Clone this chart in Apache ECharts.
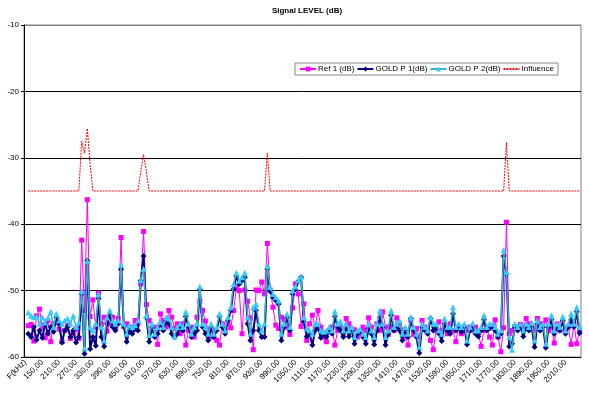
<!DOCTYPE html>
<html>
<head>
<meta charset="utf-8">
<script src="https://cdn.jsdelivr.net/npm/echarts@6/dist/echarts.min.js"></script>
<style>
html,body{margin:0;padding:0;background:#fff;}
#c{width:589px;height:396px;}
</style>
</head>
<body>
<div id="c"></div>
<script>
// Frequencies (kHz), first category is the header cell
var freqs = [100,110,120,130,140,150,160,170,180,190,200,210,220,230,240,250,260,270,280,290,300,310,320,330,340,350,360,370,380,390,400,410,420,430,440,450,460,470,480,490,500,510,520,530,540,550,560,570,580,590,600,610,620,630,640,650,660,670,680,690,700,710,720,730,740,750,760,770,780,790,800,810,820,830,840,850,860,870,880,890,900,910,920,930,940,950,960,970,980,990,1000,1010,1020,1030,1040,1050,1060,1070,1080,1090,1100,1110,1120,1130,1140,1150,1160,1170,1180,1190,1200,1210,1220,1230,1240,1250,1260,1270,1280,1290,1300,1310,1320,1330,1340,1350,1360,1370,1380,1390,1400,1410,1420,1430,1440,1450,1460,1470,1480,1490,1500,1510,1520,1530,1540,1550,1560,1570,1580,1590,1600,1610,1620,1630,1640,1650,1660,1670,1680,1690,1700,1710,1720,1730,1740,1750,1760,1770,1780,1790,1800,1810,1820,1830,1840,1850,1860,1870,1880,1890,1900,1910,1920,1930,1940,1950,1960,1970,1980,1990,2000,2010,2020,2030,2040,2050,2060];
var headerLabel = "F(kHz)";

var ref1 = [-55.3,-55.1,-57.6,-53.8,-52.8,-55.5,-57.1,-54.5,-57.7,-55.0,
-54.8,-55.8,-57.7,-56.0,-55.2,-57.2,-56.5,-55.8,-57.2,-42.4,
-53.0,-36.3,-53.9,-51.4,-55.5,-50.4,-55.1,-54.0,-56.1,-55.0,
-54.0,-55.5,-54.2,-42.0,-55.4,-55.0,-56.2,-55.5,-54.5,-55.0,
-49.0,-41.1,-52.1,-54.5,-56.0,-55.5,-58.1,-53.5,-54.5,-55.5,
-53.0,-54.0,-55.7,-55.0,-56.5,-55.0,-58.2,-56.0,-55.5,-57.0,
-54.0,-51.6,-53.0,-54.6,-56.0,-57.0,-56.0,-57.5,-58.2,-55.0,
-56.0,-55.0,-55.6,-53.0,-49.5,-50.0,-56.5,-49.9,-51.6,-54.1,
-58.9,-49.9,-50.0,-48.7,-50.5,-42.9,-49.9,-52.5,-55.2,-55.7,
-54.0,-54.4,-55.5,-56.6,-52.6,-49.0,-50.5,-55.4,-52.0,-57.5,
-55.0,-53.7,-55.5,-53.0,-55.5,-57.0,-57.7,-56.0,-55.5,-58.2,
-56.0,-55.5,-56.5,-54.2,-55.0,-55.8,-55.9,-57.0,-56.5,-55.5,
-56.0,-54.1,-55.5,-57.2,-55.0,-56.0,-53.2,-55.5,-56.6,-55.4,
-56.0,-54.1,-55.0,-55.9,-57.0,-58.2,-54.5,-56.6,-55.7,-57.0,
-54.5,-55.5,-56.0,-57.5,-58.9,-56.0,-54.7,-56.0,-55.5,-56.5,
-55.0,-56.0,-57.7,-55.5,-56.5,-55.5,-56.0,-55.5,-56.0,-55.5,
-56.4,-58.4,-56.0,-55.5,-57.0,-58.2,-54.4,-57.0,-59.2,-55.6,
-39.7,-56.5,-56.0,-55.4,-55.5,-55.1,-55.5,-54.2,-55.0,-55.5,
-56.0,-54.2,-55.0,-55.0,-54.4,-56.0,-55.5,-57.9,-55.0,-56.0,
-55.0,-56.0,-55.5,-58.1,-55.0,-58.0,-56.0];

var goldP1 = [-56.5,-57.0,-55.5,-57.4,-56.0,-57.1,-55.0,-56.5,-55.5,-56.2,
-54.0,-55.0,-57.8,-56.0,-55.5,-57.0,-56.0,-57.8,-57.0,-50.5,
-59.5,-45.5,-58.8,-57.0,-58.3,-51.2,-57.0,-58.4,-55.0,-53.7,
-55.5,-56.0,-55.0,-46.8,-55.4,-57.7,-56.0,-56.5,-55.8,-56.0,
-48.5,-44.8,-54.1,-57.7,-55.5,-57.0,-56.5,-55.0,-56.0,-54.5,
-55.0,-56.5,-57.0,-56.5,-55.5,-56.0,-53.9,-55.5,-57.0,-56.5,
-56.0,-49.8,-55.5,-56.5,-57.5,-55.5,-57.0,-56.0,-53.9,-55.5,
-56.5,-54.5,-53.0,-49.8,-47.8,-49.0,-48.5,-48.0,-55.0,-57.5,
-56.0,-53.0,-56.0,-57.0,-57.0,-46.7,-50.1,-51.0,-51.5,-52.0,
-57.5,-55.5,-54.0,-56.0,-50.5,-49.8,-48.6,-48.0,-54.7,-56.9,
-56.5,-58.2,-56.0,-55.5,-57.1,-56.5,-57.0,-56.0,-56.5,-53.9,
-55.5,-56.0,-57.0,-55.5,-56.9,-56.0,-58.0,-56.5,-56.0,-57.0,
-58.0,-55.7,-56.5,-58.1,-56.0,-54.0,-55.5,-58.2,-56.5,-53.7,
-56.0,-55.5,-56.0,-57.5,-56.0,-57.0,-54.2,-56.0,-57.0,-59.4,
-55.5,-56.0,-56.5,-54.2,-56.0,-55.5,-56.5,-57.6,-55.0,-56.0,
-56.5,-53.5,-56.0,-55.5,-56.2,-55.5,-58.1,-56.0,-55.5,-56.5,
-56.9,-56.0,-54.4,-56.0,-55.7,-55.5,-56.0,-57.0,-56.5,-44.8,
-47.5,-58.4,-58.0,-55.5,-56.0,-55.5,-56.9,-55.5,-56.0,-55.5,
-58.5,-55.0,-56.0,-55.5,-58.6,-55.5,-54.4,-56.5,-55.5,-56.0,
-54.5,-56.5,-55.5,-54.4,-55.5,-53.2,-56.4];

var goldP2 = [-53.3,-53.8,-54.0,-53.9,-55.0,-54.0,-54.8,-54.1,-53.2,-55.5,
-53.5,-54.5,-55.0,-54.5,-54.2,-55.0,-53.8,-55.5,-54.8,-50.1,
-58.7,-45.5,-55.5,-56.0,-55.0,-50.5,-55.5,-57.5,-54.0,-53.0,
-54.5,-55.0,-54.5,-46.1,-55.0,-56.5,-55.2,-55.5,-55.2,-54.5,
-48.4,-46.7,-53.8,-56.7,-55.0,-56.5,-55.5,-54.7,-55.5,-54.0,
-54.2,-55.5,-56.9,-55.5,-55.0,-55.5,-53.2,-55.0,-56.5,-55.5,
-55.0,-49.4,-55.0,-55.5,-56.5,-55.0,-56.5,-55.5,-53.5,-55.0,
-56.0,-54.0,-52.5,-49.0,-47.3,-48.5,-48.0,-47.3,-54.0,-56.5,
-52.5,-52.0,-55.0,-56.0,-55.0,-46.3,-49.5,-50.5,-51.0,-51.5,
-56.5,-55.0,-53.5,-55.5,-50.0,-49.4,-48.4,-47.9,-54.0,-55.7,
-56.0,-56.5,-55.0,-55.0,-56.0,-56.2,-56.0,-55.5,-56.0,-53.1,
-55.0,-54.6,-56.0,-55.0,-56.0,-55.5,-57.0,-56.0,-55.8,-56.5,
-57.0,-55.0,-56.0,-57.0,-55.0,-53.0,-55.0,-57.0,-56.0,-53.0,
-55.5,-55.0,-54.5,-56.5,-55.5,-56.5,-54.0,-55.5,-56.5,-58.5,
-55.0,-55.5,-56.0,-54.0,-55.0,-55.0,-56.0,-56.5,-54.2,-55.5,
-55.5,-52.5,-55.5,-55.0,-55.5,-55.0,-57.5,-55.5,-54.9,-56.0,
-56.0,-55.5,-53.7,-55.5,-55.0,-55.0,-55.5,-56.5,-56.0,-43.9,
-47.2,-57.0,-58.9,-55.0,-55.5,-55.0,-56.0,-55.0,-55.5,-54.8,
-57.5,-54.5,-55.5,-55.0,-58.0,-55.0,-53.7,-56.0,-55.0,-55.5,
-53.9,-56.0,-55.0,-53.5,-55.0,-52.5,-55.5];

var influence = [-35,-35,-35,-35,-35,-35,-35,-35,-35,-35,
-35,-35,-35,-35,-35,-35,-35,-35,-35,-27.5,
-29.3,-25.6,-31.0,-35,-35,-35,-35,-35,-35,-35,
-35,-35,-35,-35,-35,-35,-35,-35,-35,-35,
-32.1,-29.5,-32.1,-35,-35,-35,-35,-35,-35,-35,
-35,-35,-35,-35,-35,-35,-35,-35,-35,-35,
-35,-35,-35,-35,-35,-35,-35,-35,-35,-35,
-35,-35,-35,-35,-35,-35,-35,-35,-35,-35,
-35,-35,-35,-35,-35,-29.3,-35,-35,-35,-35,
-35,-35,-35,-35,-35,-35,-35,-35,-35,-35,
-35,-35,-35,-35,-35,-35,-35,-35,-35,-35,
-35,-35,-35,-35,-35,-35,-35,-35,-35,-35,
-35,-35,-35,-35,-35,-35,-35,-35,-35,-35,
-35,-35,-35,-35,-35,-35,-35,-35,-35,-35,
-35,-35,-35,-35,-35,-35,-35,-35,-35,-35,
-35,-35,-35,-35,-35,-35,-35,-35,-35,-35,
-35,-35,-35,-35,-35,-35,-35,-35,-35,-35,
-27.7,-35,-35,-35,-35,-35,-35,-35,-35,-35,
-35,-35,-35,-35,-35,-35,-35,-35,-35,-35,
-35,-35,-35,-35,-35,-35,-35];

var yTicks = [-60,-50,-40,-30,-20,-10];
var seriesNames = ["Ref 1 (dB)", "GOLD P 1(dB)", "GOLD P 2(dB)", "Influence"];

var categories = [headerLabel].concat(freqs.map(function(f){ return f.toFixed(2).replace('.', ','); }));
function pad(a){ return [null].concat(a); }

var chart = echarts.init(document.getElementById('c'), null, {renderer:'canvas'});
var font = 'Arial, "Liberation Sans", sans-serif';
chart.setOption({
  animation:false,
  backgroundColor:'#fff',
  title:{text:'Signal LEVEL (dB)', left:302, top:2, textAlign:'center',
    textStyle:{fontFamily:font, fontSize:8, fontWeight:'bold', color:'#000'}},
  legend:{left:295, top:63, padding:[2,4,2,4], itemGap:2, itemWidth:16, itemHeight:6,
    backgroundColor:'#fff', borderColor:'#888', borderWidth:1,
    textStyle:{fontFamily:font, fontSize:8, color:'#000', padding:[0,0,0,-3]},
    data:[seriesNames[0], seriesNames[1], seriesNames[2],
      {name:seriesNames[3], itemStyle:{opacity:0}}]},
  grid:{left:24, right:8, top:25, bottom:39, show:true, borderColor:'#808080', borderWidth:1, backgroundColor:'#fff'},
  xAxis:{type:'category', data:categories, boundaryGap:true,
    axisLine:{lineStyle:{color:'#000', width:1}},
    axisTick:{interval:0, length:3, lineStyle:{color:'#000'}},
    axisLabel:{interval:5, rotate:45, fontFamily:font, fontSize:8, color:'#000', margin:4},
    splitLine:{show:false}},
  yAxis:{type:'value', min:yTicks[0], max:yTicks[yTicks.length-1], interval:10,
    axisLine:{show:true, lineStyle:{color:'#000'}},
    axisTick:{show:true, length:3, lineStyle:{color:'#000'}},
    axisLabel:{fontFamily:font, fontSize:8, color:'#000', margin:5},
    splitLine:{lineStyle:{color:['#000','#000','#000','#000','#000','#808080'], width:1}}},
  series:[
    {name:seriesNames[0], type:'line', data:pad(ref1), symbol:'rect', symbolSize:5, showAllSymbol:true,
      lineStyle:{color:'#ff00ff', width:1}, itemStyle:{color:'#ff00ff'}, z:2},
    {name:seriesNames[1], type:'line', data:pad(goldP1), symbol:'diamond', symbolSize:6, showAllSymbol:true,
      lineStyle:{color:'#000080', width:2}, itemStyle:{color:'#000080'}, z:3},
    {name:seriesNames[2], type:'line', data:pad(goldP2), symbol:'triangle', symbolSize:6, showAllSymbol:true,
      lineStyle:{color:'#33b3c8', width:1.5}, itemStyle:{color:'#33ccff'}, z:4},
    {name:seriesNames[3], type:'line', data:pad(influence), symbol:'none',
      lineStyle:{color:'#ff0000', width:1, type:[2,1]}, itemStyle:{color:'#ff0000'}, z:5}
  ]
});
</script>
</body>
</html>
